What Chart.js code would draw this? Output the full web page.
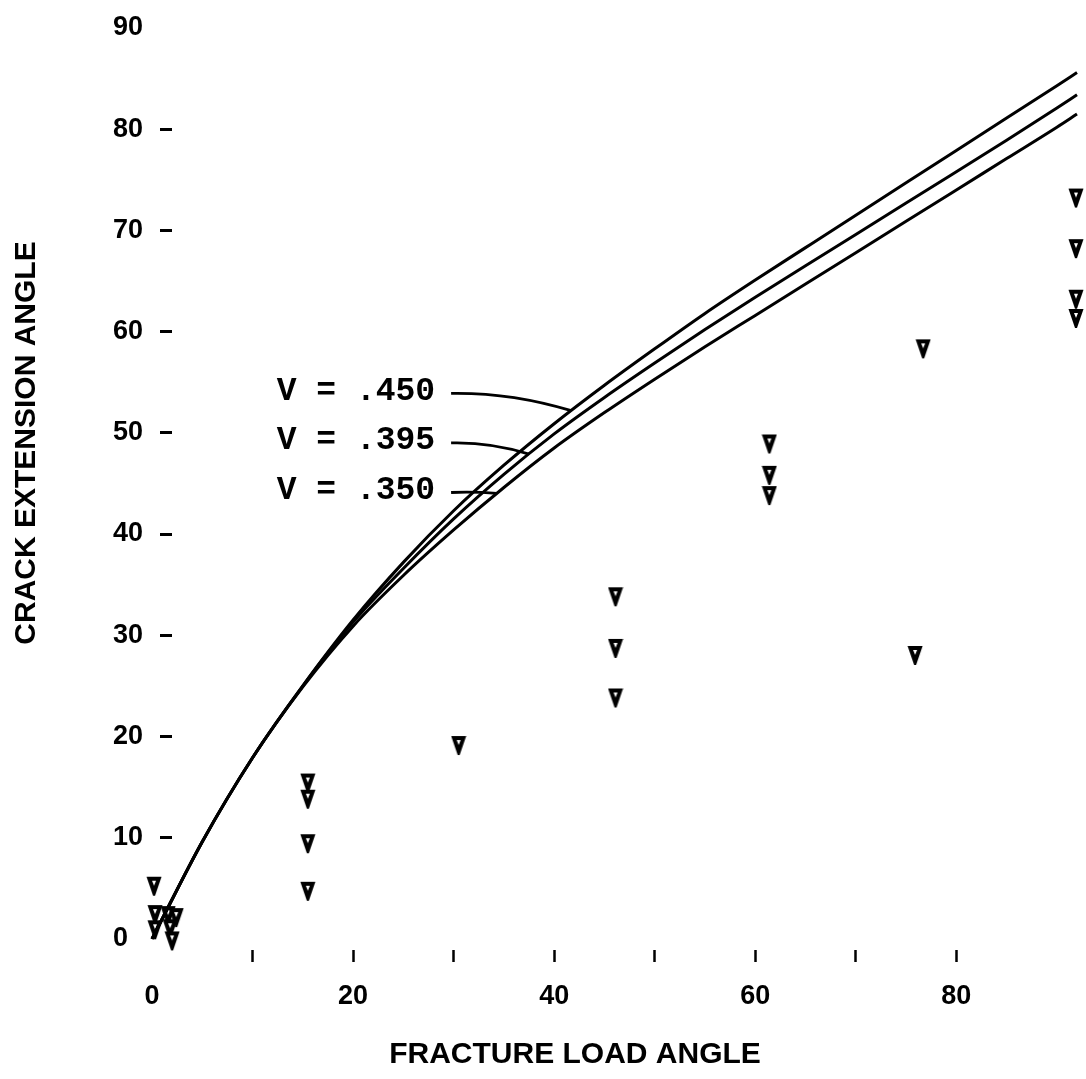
<!DOCTYPE html>
<html>
<head>
<meta charset="utf-8">
<script src="https://cdn.jsdelivr.net/npm/chart.js@4.4.1/dist/chart.umd.min.js"></script>
<style>
  html, body { margin: 0; padding: 0; background: #fff; }
  #wrap { width: 1086px; height: 1079px; position: relative; }
</style>
</head>
<body>
<div id="wrap"><canvas id="crackChart"></canvas></div>
<script>
// -----------------------------
// Theory curves (crack extension angle vs fracture load angle)
// -----------------------------
const loadAngles = [0, 5, 10, 15, 20, 25, 30, 35, 40, 45, 50, 55, 60, 65, 70, 75, 80, 85, 90, 92];
const curveV450 = [0, 9.6, 17.9, 25.0, 31.5, 37.2, 42.3, 46.8, 50.9, 54.7, 58.3, 61.8, 65.1, 68.3, 71.5, 74.7, 77.9, 81.1, 84.3, 85.6];
const curveV395 = [0, 9.6, 17.9, 25.0, 31.3, 36.6, 41.5, 45.9, 49.9, 53.5, 56.9, 60.2, 63.4, 66.5, 69.6, 72.7, 75.8, 78.9, 82.1, 83.4];
const curveV350 = [0, 9.6, 17.9, 24.9, 30.9, 35.9, 40.4, 44.6, 48.5, 52.0, 55.3, 58.5, 61.6, 64.7, 67.8, 70.9, 74.0, 77.1, 80.2, 81.5];
const curveNames = ['V = .450', 'V = .395', 'V = .350'];

// -----------------------------
// Test points
// -----------------------------
const testLoad  = [0.2, 0.3, 1.6, 2.4, 0.3, 1.8, 2.0, 15.5, 15.5, 15.5, 15.5, 30.5, 46.1, 46.1, 46.1, 61.4, 61.4, 61.4, 76.7, 75.9, 91.9, 91.9, 91.9, 91.9];
const testCrack = [5.2, 2.4, 2.3, 2.1, 0.9, 1.0, -0.2, 15.4, 13.8, 9.4, 4.7, 19.1, 33.8, 28.7, 23.8, 48.9, 45.8, 43.8, 58.3, 28.0, 73.2, 68.2, 63.2, 61.3];

const xTickValues = [0, 10, 20, 30, 40, 50, 60, 70, 80];
const yTickValues = [0, 10, 20, 30, 40, 50, 60, 70, 80, 90];

// where the curve labels sit and at which load angle their leaders meet the curves
const labelAt = [[12.4, 54.1], [12.4, 49.2], [12.4, 44.3]];
const leaderX = [41.7, 37.5, 34.3];

function toPoints(xs, ys) {
    return xs.map((x, i) => ({ x: x, y: ys[i] }));
}

// linear lookup on a curve, used only to end the label leaders on it
function valueAt(xs, ys, x) {
    for (let i = 1; i < xs.length; i++) {
        if (x <= xs[i]) {
            const t = (x - xs[i - 1]) / (xs[i] - xs[i - 1]);
            return ys[i - 1] + t * (ys[i] - ys[i - 1]);
        }
    }
    return ys[ys.length - 1];
}

// inverted triangle marker with a small hole
function makeMarker() {
    const c = document.createElement('canvas');
    c.width = 16; c.height = 21;
    const g = c.getContext('2d');
    g.fillStyle = '#000';
    g.beginPath();
    g.moveTo(0.5, 1); g.lineTo(15.5, 1); g.lineTo(9, 20); g.lineTo(7, 20);
    g.closePath(); g.fill();
    g.fillStyle = '#fff';
    g.beginPath();
    g.moveTo(6, 5); g.lineTo(10, 5); g.lineTo(8, 10);
    g.closePath(); g.fill();
    return c;
}

const tickFont = { family: '"Liberation Sans", Arial, sans-serif', size: 27, weight: 'bold' };
const curves = [curveV450, curveV395, curveV350];

const annotate = {
    id: 'annotate',
    afterDatasetsDraw(chart) {
        const { ctx, scales } = chart;
        const xs = scales.x, ys = scales.y;
        ctx.save();
        ctx.fillStyle = '#000';
        ctx.strokeStyle = '#000';

        // axis titles
        ctx.font = 'bold 30px "Liberation Sans", Arial, sans-serif';
        ctx.textAlign = 'center';
        ctx.textBaseline = 'middle';
        ctx.fillText('FRACTURE LOAD ANGLE', 575, 1055);
        ctx.save();
        ctx.translate(27, 443);
        ctx.rotate(-Math.PI / 2);
        ctx.fillText('CRACK EXTENSION ANGLE', 0, 0);
        ctx.restore();

        // curve labels + leaders
        ctx.font = 'bold 33px "Liberation Mono", "DejaVu Sans Mono", monospace';
        ctx.textAlign = 'left';
        ctx.lineWidth = 2.8;
        curveNames.forEach((name, i) => {
            const tx = xs.getPixelForValue(labelAt[i][0]);
            const ty = ys.getPixelForValue(labelAt[i][1]);
            ctx.fillText(name, tx, ty);
            const sx = tx + ctx.measureText(name).width + 16;
            const ex = xs.getPixelForValue(leaderX[i]);
            const ey = ys.getPixelForValue(valueAt(loadAngles, curves[i], leaderX[i]));
            ctx.beginPath();
            ctx.moveTo(sx, ty + 2);
            ctx.quadraticCurveTo((sx + ex) / 2, ty + 1, ex, ey);
            ctx.stroke();
        });
        ctx.restore();
    }
};

const lineStyle = {
    showLine: true,
    borderColor: '#000',
    borderWidth: 3,
    pointRadius: 0,
    cubicInterpolationMode: 'monotone',
    clip: false
};

new Chart(document.getElementById('crackChart').getContext('2d'), {
    type: 'scatter',
    data: {
        datasets: [
            Object.assign({ label: curveNames[0], data: toPoints(loadAngles, curveV450) }, lineStyle),
            Object.assign({ label: curveNames[1], data: toPoints(loadAngles, curveV395) }, lineStyle),
            Object.assign({ label: curveNames[2], data: toPoints(loadAngles, curveV350) }, lineStyle),
            {
                label: 'Test data',
                data: toPoints(testLoad, testCrack),
                pointStyle: makeMarker(),
                pointRadius: 8,
                showLine: false,
                clip: false
            }
        ]
    },
    options: {
        responsive: true,
        maintainAspectRatio: false,
        animation: false,
        layout: { padding: { left: 113, top: 28, right: 0, bottom: 0 } },
        plugins: { legend: { display: false }, tooltip: { enabled: false } },
        scales: {
            x: {
                type: 'linear',
                min: 0,
                max: 92,
                afterBuildTicks: s => { s.ticks = xTickValues.map(v => ({ value: v })); },
                afterFit: s => { s.height = 129; },
                border: { display: false },
                grid: {
                    drawOnChartArea: false,
                    drawTicks: true,
                    tickLength: 12,
                    tickWidth: 2.5,
                    tickColor: c => (c.tick && c.tick.value === 0) ? 'rgba(0,0,0,0)' : '#000'
                },
                ticks: {
                    autoSkip: false,
                    maxRotation: 0,
                    padding: 18,
                    color: '#000',
                    font: tickFont,
                    callback: v => (v % 20 === 0 ? String(v) : '')
                }
            },
            y: {
                type: 'linear',
                min: -1.1,
                max: 90,
                afterBuildTicks: s => { s.ticks = yTickValues.map(v => ({ value: v })); },
                afterFit: s => { s.width = 39; },
                border: { display: false },
                // the short dashes after the labels sit just inside the plot
                grid: {
                    drawOnChartArea: false,
                    drawTicks: true,
                    tickLength: -20,
                    tickWidth: 3,
                    tickBorderDash: [12, 100],
                    tickColor: c => (c.tick && (c.tick.value === 0 || c.tick.value === 90)) ? 'rgba(0,0,0,0)' : '#000'
                },
                ticks: {
                    crossAlign: 'far',
                    padding: 0,
                    color: '#000',
                    font: tickFont,
                    callback: v => String(v)
                }
            }
        }
    },
    plugins: [annotate]
});
</script>
</body>
</html>
